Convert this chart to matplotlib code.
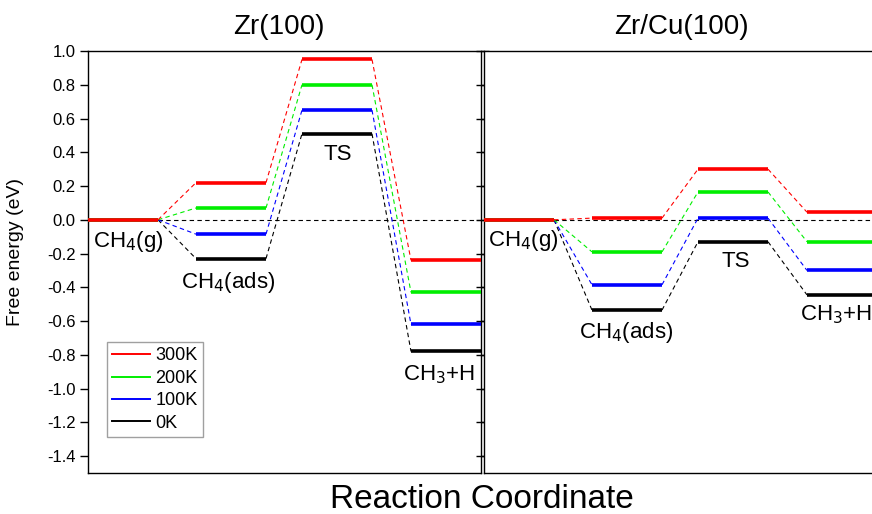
import numpy as np
import matplotlib
matplotlib.use("Agg")
import matplotlib.pyplot as plt

plt.rcParams['font.family'] = ['Liberation Sans', 'DejaVu Sans']

# ======================= data
temps = ["300K", "200K", "100K", "0K"]
colors = ["#ff0000", "#00ee00", "#0000ff", "#000000"]

# energies (eV) for CH4(g), CH4(ads), TS, CH3+H
zr100 = [
    [0.0, 0.22, 0.95, -0.24],
    [0.0, 0.07, 0.80, -0.43],
    [0.0, -0.085, 0.65, -0.62],
    [0.0, -0.23, 0.51, -0.78],
]
zrcu100 = [
    [0.0, 0.01, 0.30, 0.045],
    [0.0, -0.19, 0.165, -0.13],
    [0.0, -0.385, 0.01, -0.30],
    [0.0, -0.535, -0.13, -0.445],
]
titles = ["Zr(100)", "Zr/Cu(100)"]
yticks = np.round(np.arange(-1.4, 1.01, 0.2), 1)

# horizontal extents of each state level (panel units)
level_x = [(0, 70), (108, 178), (214, 284), (323, 393)]


def draw_panel(ax, energies, labels):
    ax.axhline(0, color="k", lw=0.8, ls=(0, (4, 3)), zorder=1)
    n = len(energies)
    for i, (e, c) in enumerate(zip(energies, colors)):
        z = 3 + (n - i)  # red drawn on top
        for k, (x0, x1) in enumerate(level_x):
            ax.plot([x0, x1], [e[k], e[k]], color=c, lw=2.6,
                    solid_capstyle="butt", zorder=z + 10)
            if k < len(level_x) - 1:
                nx0 = level_x[k + 1][0]
                ax.plot([x1, nx0], [e[k], e[k + 1]], color=c, lw=0.8,
                        ls=(0, (4, 3)), zorder=z)
    for txt, x, y in labels:
        ax.text(x, y, txt, fontsize=16, ha="center", va="center")
    ax.set_xlim(0, 393)
    ax.set_ylim(-1.5, 1.0)
    ax.set_xticks([])


fig = plt.figure(figsize=(8.72, 5.14), dpi=100)
W, H = 872, 514
ax1 = fig.add_axes([88 / W, 1 - 473 / H, 393 / W, 422 / H])
ax2 = fig.add_axes([484 / W, 1 - 473 / H, 393 / W, 422 / H])

draw_panel(ax1, zr100, [("CH$_4$(g)", 40, -0.13),
                        ("CH$_4$(ads)", 140, -0.37),
                        ("TS", 250, 0.385),
                        ("CH$_3$+H", 351, -0.92)])
draw_panel(ax2, zrcu100, [("CH$_4$(g)", 39, -0.125),
                          ("CH$_4$(ads)", 142, -0.67),
                          ("TS", 252, -0.25),
                          ("CH$_3$+H", 352, -0.56)])

for ax, t in zip([ax1, ax2], titles):
    for s in ax.spines.values():
        s.set_linewidth(1.0)
    ax.set_yticks(yticks)
    ax.tick_params(axis="y", direction="out", length=6, width=1,
                   left=True, right=True, labelsize=12, pad=3)

ax1.set_title(titles[0], fontsize=20, pad=12, x=(279 - 88) / 393)
ax2.set_title(titles[1], fontsize=20, pad=12, x=(681 - 484) / 393)

ax1.set_yticklabels(["%.1f" % (v if abs(v) > 1e-9 else 0.0) for v in yticks])
ax2.set_yticklabels([])
ax1.set_ylabel("Free energy (eV)", fontsize=14, labelpad=9)
ax1.yaxis.set_label_coords(-64 / 393, (473 - 252) / 422)

# legend
handles = [plt.Line2D([], [], color=c, lw=1.4) for c in colors]
ax1.legend(handles, temps, loc="lower left", bbox_to_anchor=(0.048, 0.085),
           fontsize=13, frameon=True, fancybox=False, edgecolor="#888888",
           handlelength=2.1, handletextpad=0.3, borderpad=0.3,
           labelspacing=0.3, borderaxespad=0)

fig.text(482 / W, 1 - 500 / H, "Reaction Coordinate", fontsize=24,
         ha="center", va="center")

fig.savefig("out.png", dpi=100)
